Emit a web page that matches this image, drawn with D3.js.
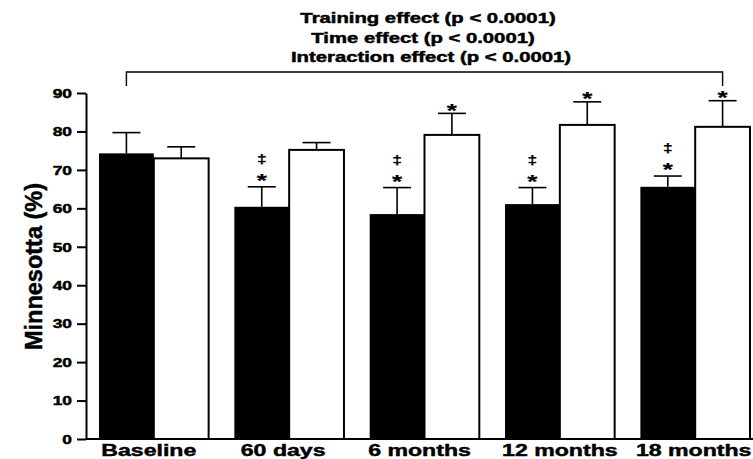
<!DOCTYPE html>
<html>
<head>
<meta charset="utf-8">
<script src="https://cdn.jsdelivr.net/npm/d3@7"></script>
<style>
    body { margin: 0; background: #fff; }
    svg { display: block; }
    text { font-family: "Liberation Sans", Arial, sans-serif; font-weight: bold; fill: #000; stroke: #000; stroke-width: 0.45px; }
</style>
</head>
<body>
<svg id="chart" width="753" height="459"></svg>
<script>

/* Data */
var categories = ['Baseline', '60 days', '6 months', '12 months', '18 months'];
var series = ['trained', 'control'];
var trainedMean = [74.3, 60.4, 58.5, 61.1, 65.6];
var trainedErr  = [5.4, 5.2, 6.9, 4.3, 2.8];
var controlMean = [73.0, 75.2, 79.1, 81.7, 81.2];
var controlErr  = [3.0, 1.9, 5.6, 6.0, 6.8];
var trainedStar   = [false, true, true, true, true];
var trainedDagger = [false, true, true, true, true];
var controlStar   = [false, false, true, true, true];
var yTicks = [0, 10, 20, 30, 40, 50, 60, 70, 80, 90];
var titleLines = [
    'Training effect (p < 0.0001)',
    'Time effect (p < 0.0001)',
    'Interaction effect (p < 0.0001)'
];

// the original figure is stretched sideways, so are its horizontal texts
var STRETCH = 1.45;
var LABEL_STRETCH = 1.36;

var svg = d3.select('#chart');

var y = d3.scaleLinear().domain([0, 90]).range([439, 93]);
var x = d3.scaleBand().domain(categories).range([99, 750]).paddingInner(0.19).paddingOuter(0);
var xs = d3.scaleBand().domain(series).range([0, x.bandwidth()]).padding(0);

function stretched(k) {
    return function(sel) {
        sel.attr('transform', function() {
            var t = d3.select(this);
            return 'translate(' + t.attr('data-x') + ',' + t.attr('data-y') + ') scale(' + k + ',1)';
        });
    };
}

var rows = categories.map(function(c, i) {
    return [
        {cat: c, s: 'trained', mean: trainedMean[i], err: trainedErr[i], star: trainedStar[i], dagger: trainedDagger[i]},
        {cat: c, s: 'control', mean: controlMean[i], err: controlErr[i], star: controlStar[i], dagger: false}
    ];
});
var bars = [].concat.apply([], rows);

function cx(d) { return x(d.cat) + xs(d.s) + xs.bandwidth() / 2; }

/* bars */
svg.append('g').selectAll('rect')
    .data(bars)
    .enter().append('rect')
        .attr('x', function(d) { return x(d.cat) + xs(d.s); })
        .attr('y', function(d) { return y(d.mean); })
        .attr('width', xs.bandwidth())
        .attr('height', function(d) { return y(0) - y(d.mean); })
        .attr('fill', function(d) { return d.s === 'trained' ? '#000' : '#fff'; })
        .attr('stroke', function(d) { return d.s === 'trained' ? 'none' : '#000'; })
        .attr('stroke-width', 2);

/* error bars */
var eb = svg.append('g').attr('stroke', '#000').attr('stroke-width', 1.6);
eb.selectAll('line.v')
    .data(bars)
    .enter().append('line')
        .attr('class', 'v')
        .attr('x1', cx).attr('x2', cx)
        .attr('y1', function(d) { return y(d.mean); })
        .attr('y2', function(d) { return y(d.mean + d.err); });
eb.selectAll('line.cap')
    .data(bars)
    .enter().append('line')
        .attr('class', 'cap')
        .attr('x1', function(d) { return cx(d) - 14; })
        .attr('x2', function(d) { return cx(d) + 14; })
        .attr('y1', function(d) { return y(d.mean + d.err); })
        .attr('y2', function(d) { return y(d.mean + d.err); });

/* significance marks */
svg.append('g').selectAll('text.star')
    .data(bars.filter(function(d) { return d.star; }))
    .enter().append('text')
        .attr('class', 'star')
        .attr('text-anchor', 'middle')
        .style('font-size', '18px')
        .style('stroke-width', '0.2px')
        .attr('data-x', cx)
        .attr('data-y', function(d) { return y(d.mean + d.err) + (d.s === 'trained' ? 0 : 3.5); })
        .text('*')
        .call(stretched(STRETCH));

svg.append('g').selectAll('text.dagger')
    .data(bars.filter(function(d) { return d.dagger; }))
    .enter().append('text')
        .attr('class', 'dagger')
        .attr('text-anchor', 'middle')
        .style('font-size', '12px')
        .style('stroke-width', '0.2px')
        .attr('data-x', cx)
        .attr('data-y', function(d) { return y(d.mean + d.err) - 24; })
        .text('\u2021')
        .call(stretched(STRETCH));

/* axes */
var yAxis = svg.append('g')
    .attr('transform', 'translate(86,0)')
    .call(d3.axisLeft(y).tickValues(yTicks).tickSize(9).tickSizeOuter(0));
yAxis.select('.domain').attr('stroke-width', 2);
yAxis.selectAll('.tick line').attr('stroke-width', 2);
yAxis.selectAll('.tick text')
    .attr('x', null)
    .attr('dy', '0.36em')
    .style('font-size', '12px')
    .style('font-family', '"Liberation Sans", Arial, sans-serif')
    .attr('transform', 'translate(-14,0) scale(' + STRETCH + ',1)');

svg.append('line')
    .attr('x1', 86).attr('x2', 753)
    .attr('y1', y(0)).attr('y2', y(0))
    .attr('stroke', '#000').attr('stroke-width', 2);

svg.append('g').selectAll('text.cat')
    .data(categories)
    .enter().append('text')
        .attr('class', 'cat')
        .attr('text-anchor', 'middle')
        .style('font-size', '17px')
        .attr('data-x', function(d, i) { return x(d) + x.bandwidth() / 2 + [-5, -6, -5, 0, -1.5][i]; })
        .attr('data-y', 455.5)
        .text(function(d) { return d; })
        .call(stretched(LABEL_STRETCH));

svg.append('text')
    .attr('text-anchor', 'middle')
    .attr('transform', 'translate(41.5,266.5) rotate(-90)')
    .attr('textLength', 167)
    .attr('lengthAdjust', 'spacingAndGlyphs')
    .style('font-size', '23px')
    .text('Minnesotta (%)');

/* overall effects and bracket */
svg.append('g').selectAll('text.title')
    .data(titleLines)
    .enter().append('text')
        .attr('class', 'title')
        .attr('text-anchor', 'middle')
        .style('font-size', '14px')
        .attr('data-x', function(d, i) { return [428, 423, 431][i]; })
        .attr('data-y', function(d, i) { return 23 + i * 19.5; })
        .text(function(d) { return d; })
        .call(stretched(STRETCH));

var bx0 = cx(bars[0]), bx1 = cx(bars[bars.length - 1]);
svg.append('path')
    .attr('d', 'M' + bx0 + ',86V72H' + bx1 + 'V86')
    .attr('fill', 'none')
    .attr('stroke', '#000')
    .attr('stroke-width', 1.4);

</script>
</body>
</html>
